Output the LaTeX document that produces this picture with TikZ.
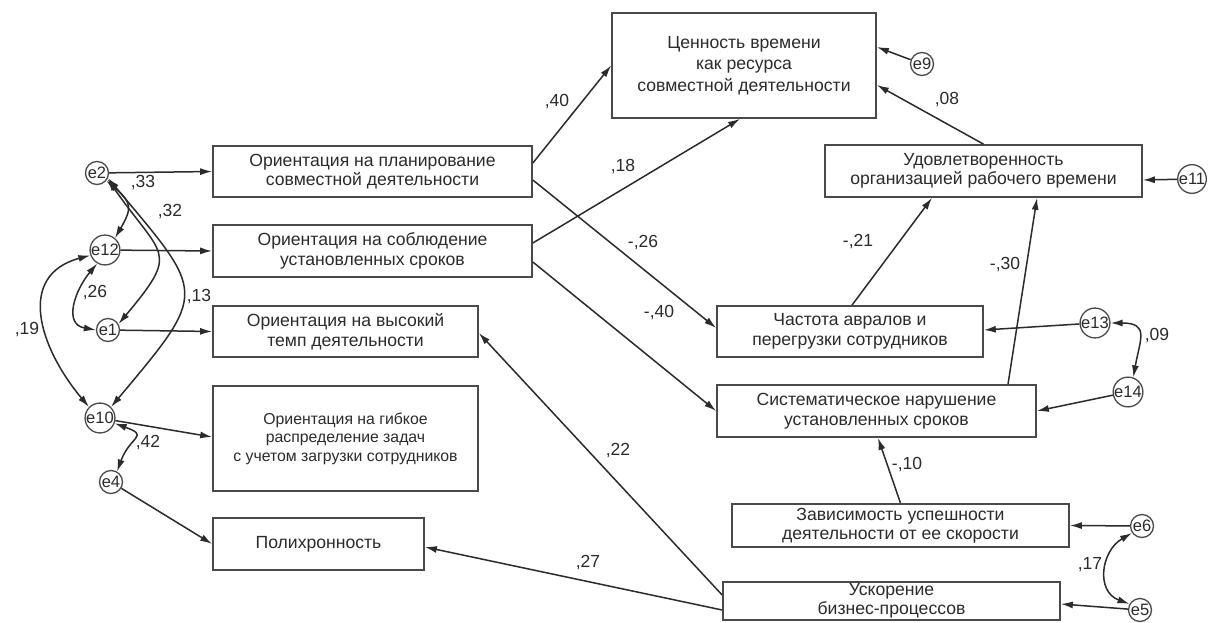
\documentclass[tikz,border=0pt]{standalone}
\usepackage{fontspec}
\setmainfont{Liberation Sans}
\usetikzlibrary{arrows.meta,calc}
\definecolor{ink}{HTML}{2B2B2B}
\definecolor{edge}{HTML}{4A4A4A}
\tikzset{
  box/.style={draw=edge,line width=1.7pt,rectangle,inner sep=0pt,align=center,text=ink,
    font=\fontsize{17.6}{19.5}\selectfont},
  bigbox/.style={box,font=\fontsize{17.6}{21.5}\selectfont},
  smallbox/.style={box,font=\fontsize{15.8}{18.5}\selectfont},
  err/.style={draw=edge,line width=1.3pt,circle,minimum size=23pt,inner sep=0pt,text=ink,
    font=\fontsize{16.5}{16.5}\selectfont},
  coef/.style={text=ink,inner sep=0pt,font=\fontsize{17.5}{20}\selectfont},
  path1/.style={draw=ink,line width=1.5pt,-{Latex[length=12pt,width=7pt]}},
  cov/.style={draw=ink,line width=1.5pt,{Latex[length=12pt,width=7pt]}-{Latex[length=12pt,width=7pt]}}
}
\begin{document}
\begin{tikzpicture}[x=1pt,y=-1pt]
\useasboundingbox[fill=white] (0,0) rectangle (1210,623);
% boxes
\node[bigbox,minimum width=264pt,minimum height=105pt] (val) at (744,65.5) {Ценность времени\\как ресурса\\совместной деятельности};
\node[box,minimum width=319pt,minimum height=51pt] (plan) at (372.5,171.5) {Ориентация на планирование\\совместной деятельности};
\node[box,minimum width=319pt,minimum height=52pt] (srok) at (372.5,251) {Ориентация на соблюдение\\установленных сроков};
\node[box,minimum width=265pt,minimum height=51pt] (temp) at (345.5,331.5) {Ориентация на высокий\\темп деятельности};
\node[smallbox,minimum width=265pt,minimum height=105pt] (flex) at (345.5,438.5) {Ориентация на гибкое\\распределение задач\\с учетом загрузки сотрудников};
\node[box,minimum width=211pt,minimum height=52pt] (poly) at (318.5,544) {Полихронность};
\node[box,minimum width=317pt,minimum height=52pt] (sat) at (983.5,171) {Удовлетворенность\\организацией рабочего времени};
\node[box,minimum width=266pt,minimum height=51pt] (freq) at (850,331.5) {Частота авралов и\\перегрузки сотрудников};
\node[box,minimum width=319pt,minimum height=52pt] (viol) at (876.5,411) {Систематическое нарушение\\установленных сроков};
\node[box,minimum width=337pt,minimum height=43pt] (dep) at (900.5,525.5) {Зависимость успешности\\деятельности от ее скорости};
\node[box,minimum width=337pt,minimum height=38pt] (acc) at (891.5,601) {Ускорение\\бизнес-процессов};
% error terms
\node[err] (e2) at (97,173) {e2};
\node[err] (e12) at (105,250) {e12};
\node[err] (e1) at (108,330) {e1};
\node[err] (e10) at (100,418) {e10};
\node[err] (e4) at (111,482) {e4};
\node[err] (e9) at (922,64) {e9};
\node[err] (e11) at (1192,179) {e11};
\node[err] (e13) at (1095,323) {e13};
\node[err] (e14) at (1128,392) {e14};
\node[err] (e6) at (1142,526) {e6};
\node[err] (e5) at (1140,610) {e5};
% structural paths
\draw[path1] ([yshift=8.5pt]plan.east) -- (val.west);
\draw[path1] ([yshift=8pt]srok.east) -- ([xshift=-4pt]val.south);
\draw[path1] ([yshift=-8.5pt]plan.east) -- ([yshift=3.5pt]freq.west);
\draw[path1] ([yshift=-11pt]srok.east) -- (viol.west);
\draw[path1] (sat.north) -- ([yshift=-19.5pt]val.east);
\draw[path1] ([xshift=2pt]freq.north) -- ([xshift=-51.5pt]sat.south);
\draw[path1] ([xshift=131.5pt]viol.north) -- ([xshift=53.5pt]sat.south);
\draw[path1] (dep.north) -- ([xshift=1.5pt]viol.south);
\draw[path1] ([yshift=6pt]acc.west) -- ([yshift=-1.5pt]temp.east);
\draw[path1] ([yshift=-9pt]acc.west) -- ([yshift=-3pt]poly.east);
% error paths
\draw[path1] (e9) -- ([yshift=18.5pt]val.east);
\draw[path1] (e11) -- ([yshift=-9pt]sat.east);
\draw[path1] (e13) -- ([yshift=1.5pt]freq.east);
\draw[path1] (e14) -- (viol.east);
\draw[path1] (e6) -- (dep.east);
\draw[path1] (e5) -- ([yshift=-3pt]acc.east);
\draw[path1] (e2) -- (plan.west);
\draw[path1] (e12) -- (srok.west);
\draw[path1] (e1) -- (temp.west);
\draw[path1] (e10) -- ([yshift=1.5pt]flex.west);
\draw[path1] (e4) -- (poly.west);
% covariances
\draw[cov] (e2.-40) to[out=-40,in=60,looseness=1.5] (e12.50);
\draw[cov] (e2.-30) to[out=-55,in=50,looseness=1.7] (e1.30);
\draw[cov] (e2.-25) to[out=-50,in=50,looseness=1.7] (e10.45);
\draw[cov] (e12.-120) to[out=-130,in=170,looseness=1.3] (e1.180);
\draw[cov] (e12.-160) to[out=-165,in=130,looseness=1.3] (e10.135);
\draw[cov] (e10.-20) to[out=-20,in=70,looseness=2] (e4.60);
\draw[cov] (e13.east) to[out=0,in=80,looseness=1.7] (e14.70);
\draw[cov] (e6.-145) to[out=-150,in=160,looseness=1.3] (e5.150);
% coefficients
\node[coef] (c40) at (557,102) {,40};
\node[coef] (c18) at (623,167) {,18};
\node[coef] (c08) at (947,100) {,08};
\node[coef] (c26a) at (643,243) {-,26};
\node[coef] (c21) at (858,242) {-,21};
\node[coef] (c30) at (1005,265) {-,30};
\node[coef] (c40b) at (659,313) {-,40};
\node[coef] (c09) at (1157,336) {,09};
\node[coef] (c10) at (907,465) {-,10};
\node[coef] (c17) at (1090,565) {,17};
\node[coef] (c22) at (618,451) {,22};
\node[coef] (c27) at (588,563) {,27};
\node[coef] (c33) at (143,183) {,33};
\node[coef] (c32) at (170,212) {,32};
\node[coef] (c26) at (95,293) {,26};
\node[coef] (c13) at (199,297) {,13};
\node[coef] (c19) at (27,330) {,19};
\node[coef] (c42) at (148,443) {,42};
\end{tikzpicture}
\end{document}
